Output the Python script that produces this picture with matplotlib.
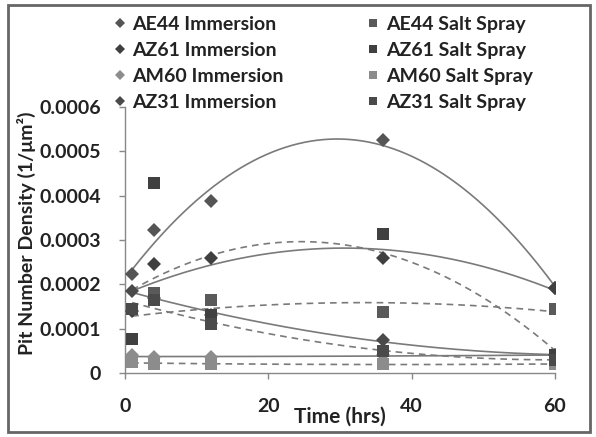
import numpy as np
import matplotlib.pyplot as plt
from matplotlib.patches import Rectangle

plt.rcParams["font.family"] = ["Lato", "DejaVu Sans"]
plt.rcParams["font.weight"] = "bold"
plt.rcParams["axes.labelweight"] = "bold"

# sampling times (hrs)
time_hrs = [1, 4, 12, 36, 60]

# immersion series (diamonds, solid trend lines)
ae44_imm = [0.000223, 0.000322, 0.000388, 0.000525, 0.000192]
az61_imm = [0.000140, 0.000245, 0.000260, 0.000260, 0.000192]
am60_imm = [0.000040, 0.000035, 0.000035, 0.000040, 0.000040]
az31_imm = [0.000185, 0.000170, 0.000130, 0.000075, 0.000040]

# salt spray series (squares, dashed trend lines)
ae44_ss = [0.000077, 0.000180, 0.000165, 0.000137, 0.000145]
az61_ss = [0.000077, 0.000428, 0.000130, 0.000313, 0.000040]
am60_ss = [0.000025, 0.000020, 0.000020, 0.000020, 0.000020]
az31_ss = [0.000145, 0.000165, 0.000110, 0.000050, 0.000030]

series = [
    ("AE44 Immersion", ae44_imm, "D", "#555555", "-"),
    ("AZ61 Immersion", az61_imm, "D", "#404040", "-"),
    ("AM60 Immersion", am60_imm, "D", "#8c8c8c", "-"),
    ("AZ31 Immersion", az31_imm, "D", "#4a4a4a", "-"),
    ("AE44 Salt Spray", ae44_ss, "s", "#5a5a5a", "--"),
    ("AZ61 Salt Spray", az61_ss, "s", "#404040", "--"),
    ("AM60 Salt Spray", am60_ss, "s", "#8c8c8c", "--"),
    ("AZ31 Salt Spray", az31_ss, "s", "#4a4a4a", "--"),
]

fig = plt.figure(figsize=(5.96, 4.37), dpi=100)
ax = fig.add_axes([0.2097, 0.1465, 0.7215, 0.6085])

t = np.array(time_hrs, dtype=float)
tt = np.linspace(1, 60, 200)
handles = []
for label, vals, mk, col, ls in series:
    # Excel-style 2nd order polynomial trendline
    coef = np.polyfit(t, vals, 2)
    ax.plot(tt, np.polyval(coef, tt), color="#7a7a7a", lw=1.2, ls=ls,
            dashes=(4, 3) if ls == "--" else (None, None), zorder=2)
    ms = 7 if mk == "D" else 8
    h, = ax.plot(t, vals, ls="none", marker=mk, ms=ms, color=col,
                 markeredgewidth=0, label=label, zorder=3)
    handles.append(h)

ax.set_xlim(0, 60)
ax.set_ylim(0, 0.0006)
ax.set_xticks([0, 20, 40, 60])
ax.set_yticks([0, 0.0001, 0.0002, 0.0003, 0.0004, 0.0005, 0.0006])
ax.set_yticklabels(["0", "0.0001", "0.0002", "0.0003", "0.0004", "0.0005", "0.0006"])
ax.tick_params(axis="both", direction="out", length=4, width=1, color="#888888",
               labelsize=14, labelcolor="#222222")
ax.tick_params(axis="y", pad=13)
ax.tick_params(axis="x", pad=14)
for lab in ax.get_xticklabels() + ax.get_yticklabels():
    lab.set_fontweight("bold")
for s in ["top", "right"]:
    ax.spines[s].set_visible(False)
for s in ["left", "bottom"]:
    ax.spines[s].set_color("#888888")
    ax.spines[s].set_linewidth(1)

ax.set_ylabel("Pit Number Density (1/\u03bcm\u00b2)", fontsize=14, color="#222222",
              fontweight="bold")
ax.yaxis.set_label_coords(-0.207, 0.525)
ax.set_xlabel("Time (hrs)", fontsize=15, color="#222222", fontweight="bold")
ax.xaxis.set_label_coords(0.5, -0.125)

leg = fig.legend(handles=handles, ncol=2, loc="upper left",
                 bbox_to_anchor=(0.175, 0.985), frameon=False,
                 prop={"size": 14, "weight": "bold"},
                 markerscale=0.8, handlelength=0.6, handletextpad=0.35,
                 labelspacing=0.45, columnspacing=4.3, borderpad=0)
for txt in leg.get_texts():
    txt.set_color("#222222")

# outer chart border
fig.patches.append(Rectangle((0.013, 0.012), 0.977, 0.976, transform=fig.transFigure,
                             fill=False, edgecolor="#666666", lw=2))

fig.savefig("out.png", dpi=100)
